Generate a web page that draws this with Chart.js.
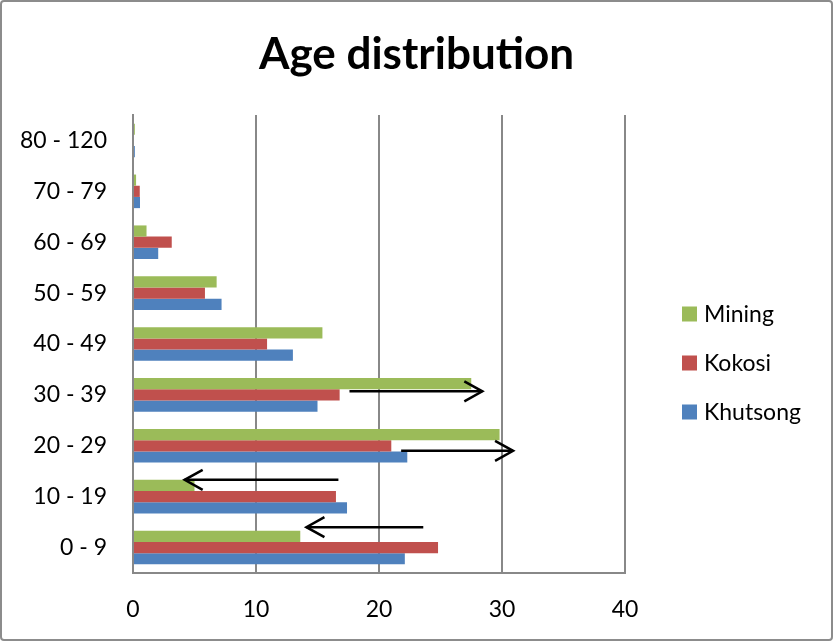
<!DOCTYPE html>
<html>
<head>
<meta charset="utf-8">
<script src="https://cdn.jsdelivr.net/npm/chart.js@4/dist/chart.umd.min.js"></script>
<style>
  html, body { margin: 0; padding: 0; background: #fff; }
  canvas { display: block; }
</style>
</head>
<body>
<canvas id="chart" width="833" height="641"></canvas>
<script>
// Age groups (bottom to top) and the share of each population per group
const ageGroups = ["0 - 9", "10 - 19", "20 - 29", "30 - 39", "40 - 49", "50 - 59", "60 - 69", "70 - 79", "80 - 120"];
const mining   = [13.6, 5.0, 29.8, 27.5, 15.4, 6.8, 1.1, 0.25, 0.15];
const kokosi   = [24.8, 16.5, 21.0, 16.8, 10.9, 5.85, 3.15, 0.55, 0];
const khutsong = [22.1, 17.4, 22.3, 15.0, 13.0, 7.2, 2.05, 0.57, 0.15];
const xTicks   = [0, 10, 20, 30, 40];

// Shift arrows: age group, start value, end value, vertical shift within the group band
const arrowGroups = ["30 - 39", "20 - 29", "10 - 19", "0 - 9"];
const arrowStart  = [17.6, 21.8, 16.7, 23.6];
const arrowEnd    = [28.4, 30.9, 4.2, 14.1];
const arrowShift  = [-0.07, 0.1, -0.33, -0.4];

const FONT = "Lato, 'Open Sans', sans-serif";
const GRID = '#888888';

const frame = {
  id: 'frame',
  beforeDraw(chart) {
    const c = chart.ctx;
    c.save();
    c.fillStyle = '#fff';
    c.fillRect(0, 0, chart.width, chart.height);
    c.strokeStyle = '#8c8c8c';
    c.lineWidth = 2;
    c.beginPath();
    c.roundRect(1, 1, chart.width - 2, chart.height - 2, 3);
    c.stroke();
    c.restore();
  }
};

const arrows = {
  id: 'arrows',
  afterDatasetsDraw(chart) {
    const c = chart.ctx, xs = chart.scales.x, ys = chart.scales.y;
    const band = Math.abs(ys.getPixelForValue(1) - ys.getPixelForValue(0));
    c.save();
    c.strokeStyle = '#000';
    c.lineWidth = 2.5;
    c.lineCap = 'butt';
    arrowGroups.forEach((g, i) => {
      const y = ys.getPixelForValue(ageGroups.indexOf(g)) + arrowShift[i] * band;
      const x0 = xs.getPixelForValue(arrowStart[i]);
      const x1 = xs.getPixelForValue(arrowEnd[i]);
      const dir = Math.sign(x1 - x0);
      c.beginPath();
      c.moveTo(x0, y);
      c.lineTo(x1, y);
      c.stroke();
      c.beginPath();
      c.moveTo(x1 - dir * 18, y - 10);
      c.lineTo(x1, y);
      c.lineTo(x1 - dir * 18, y + 10);
      c.stroke();
    });
    c.restore();
  }
};

// Legend drawn in the space reserved on the right of the plot
const sideLegend = {
  id: 'sideLegend',
  afterDraw(chart) {
    const c = chart.ctx;
    const boxX = 682, textX = 704, y0 = 314, step = 49;
    c.save();
    c.font = "23px " + FONT;
    c.textBaseline = 'middle';
    chart.data.datasets.forEach((ds, i) => {
      const y = y0 + i * step;
      c.fillStyle = ds.backgroundColor;
      c.fillRect(boxX, y - 7.5, 15, 15);
      c.fillStyle = '#000';
      c.fillText(ds.label, textX, y + 1);
    });
    c.restore();
  }
};

new Chart(document.getElementById('chart'), {
  type: 'bar',
  data: {
    labels: ageGroups,
    datasets: [
      { label: 'Mining',   data: mining,   backgroundColor: '#9BBB59' },
      { label: 'Kokosi',   data: kokosi,   backgroundColor: '#C0504D' },
      { label: 'Khutsong', data: khutsong, backgroundColor: '#4F81BD' }
    ]
  },
  options: {
    indexAxis: 'y',
    responsive: false,
    animation: false,
    categoryPercentage: 0.66,
    barPercentage: 1.0,
    layout: { padding: { top: 6, right: 0, bottom: 0, left: 0 } },
    plugins: {
      legend: { display: false },
      tooltip: { enabled: false },
      title: {
        display: true,
        text: 'Age distribution',
        color: '#000',
        font: { family: FONT, size: 44, weight: 'bold', lineHeight: 1.2 },
        padding: { top: 22, bottom: 34.2 }
      }
    },
    scales: {
      x: {
        min: 0,
        max: 40,
        afterBuildTicks(scale) { scale.ticks = xTicks.map(v => ({ value: v })); },
        afterFit(scale) { scale.height = 68; },
        grid: { color: GRID, lineWidth: 2, drawTicks: false },
        border: { display: true, color: GRID, width: 2 },
        ticks: { color: '#000', padding: 23, font: { family: FONT, size: 23 } }
      },
      y: {
        reverse: true,
        afterFit(scale) { scale.width = 133; },
        grid: { display: false, drawTicks: false },
        border: { display: true, color: GRID, width: 2 },
        ticks: { color: '#000', padding: 26, font: { family: FONT, size: 23 } }
      },
      // empty right-hand band that holds the legend
      legendBand: {
        type: 'category',
        position: 'right',
        afterFit(scale) { scale.width = 208; },
        grid: { display: false, drawTicks: false },
        border: { display: false },
        ticks: { display: false }
      }
    }
  },
  plugins: [frame, arrows, sideLegend]
});
</script>
</body>
</html>
